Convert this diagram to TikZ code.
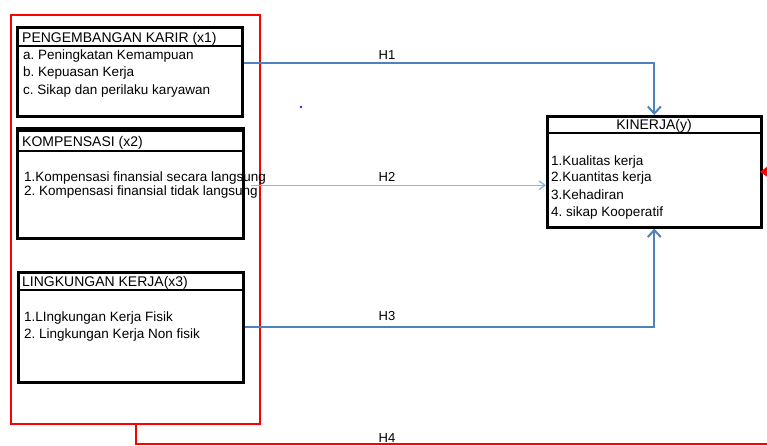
\documentclass[tikz,border=0pt]{standalone}
\usepackage{fontspec}
\setmainfont{Liberation Sans}
\usetikzlibrary{arrows.meta}
\definecolor{hblue}{RGB}{79,129,189}
\definecolor{hlblue}{RGB}{141,180,226}
\definecolor{hred}{RGB}{255,0,0}
\definecolor{dotblue}{RGB}{40,40,255}
\frenchspacing
\begin{document}
\begin{tikzpicture}[x=1pt,y=-1pt,
  redbox/.style={draw=hred,line width=2.2pt,inner sep=0pt,anchor=north west},
  varbox/.style={draw=black,line width=2.6pt,inner sep=0pt,anchor=north west},
  sepline/.style={draw=black,line width=1.2pt},
  txt/.style={inner sep=0pt,anchor=base west,font=\fontsize{13.5}{15}\selectfont},
  hdr/.style={inner sep=0pt,anchor=base west,font=\fontsize{14}{16}\selectfont},
  hlabel/.style={inner sep=0pt,anchor=base,font=\fontsize{13}{15}\selectfont},
  khdr/.style={inner sep=0pt,anchor=base,font=\fontsize{14}{16}\selectfont},
  hmain/.style={draw=hblue,line width=2pt,-{Straight Barb[length=7pt,width=13pt,line width=2pt]}},
  hlight/.style={draw=hlblue,line width=1.3pt,-{Straight Barb[length=6pt,width=9pt,line width=1.3pt]}},
  hredline/.style={draw=hred,line width=2pt,-{Triangle[length=8pt,width=11pt]}}
]
\useasboundingbox (0,0) rectangle (767,446);

% group box
\node[redbox,minimum width=249pt,minimum height=409pt] (grp) at (10,14) {};

% boxes
\node[varbox,minimum width=225pt,minimum height=89pt] (b1) at (16,26) {};
\draw[sepline] (16,46) -- (241,46);
\node[varbox,minimum width=226pt,minimum height=110pt] (b2) at (16,127) {};
\draw[sepline] (16,131) -- (242,131);
\draw[sepline] (16,151) -- (242,151);
\node[varbox,minimum width=225pt,minimum height=110pt] (b3) at (17,271) {};
\draw[sepline] (17,290) -- (242,290);
\node[varbox,minimum width=214pt,minimum height=111pt] (kin) at (546,115) {};
\draw[sepline] (546,133) -- (760,133);

% texts box 1
\node[hdr] (t1h) at (22,42.5) {PENGEMBANGAN KARIR (x1)};
\node[txt] (t1a) at (23,59.5) {a. Peningkatan Kemampuan};
\node[txt] (t1b) at (23,77) {b. Kepuasan Kerja};
\node[txt] (t1c) at (23,94.5) {c. Sikap dan perilaku karyawan};
% box 2
\node[hdr] (t2h) at (22,147) {KOMPENSASI (x2)};
\node[txt] (t2a) at (24,181.5) {1.Kompensasi finansial secara langsung};
\node[txt] (t2b) at (24,196) {2. Kompensasi finansial tidak langsung};
% box 3
\node[hdr] (t3h) at (22,286.5) {LINGKUNGAN KERJA(x3)};
\node[txt] (t3a) at (24,321) {1.LIngkungan Kerja Fisik};
\node[txt] (t3b) at (24,338) {2. Lingkungan Kerja Non fisik};
% kinerja
\node[khdr] (tkh) at (654,129.5) {KINERJA(y)};
\node[txt] (tka) at (551,165.5) {1.Kualitas kerja};
\node[txt] (tkb) at (551,182) {2.Kuantitas kerja};
\node[txt] (tkc) at (551,199.5) {3.Kehadiran};
\node[txt] (tkd) at (551,216) {4. sikap Kooperatif};

% connectors
\coordinate (h1s) at ([yshift=-37pt]b1.north east);
\draw[hmain] (h1s) -| (kin.north);
\coordinate (h2s) at ([xshift=6pt,yshift=-2pt]b2.east);
\draw[hlight] (h2s) -- (h2s -| kin.west);
\draw[hmain] (b3.east) -| (kin.south);
\coordinate (rc) at (800,444);
\draw[hredline,shorten >=-2.5pt] (grp.south) |- (rc) |- (kin.east);

% labels
\node[hlabel] (l1) at (387,59.5) {H1};
\node[hlabel] (l2) at (387,181.5) {H2};
\node[hlabel] (l3) at (387,320.5) {H3};
\node[hlabel] (l4) at (387,442) {H4};

% stray dot
\fill[dotblue] (301,107) circle (1.3pt);
\end{tikzpicture}
\end{document}
